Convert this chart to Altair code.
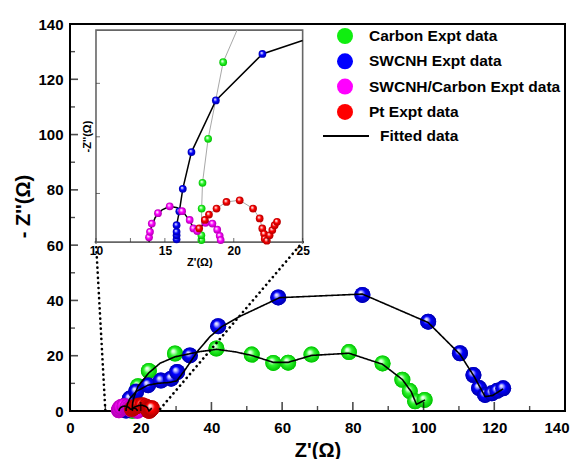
import altair as alt
import pandas as pd

SERIES = ["Carbon Expt data", "SWCNH Expt data", "SWCNH/Carbon Expt data", "Pt Expt data"]
COLORS = ["#10ee10", "#0000ff", "#ff00ff", "#ff0000"]
FIT_LABEL = "Fitted data"

# ---- experimental data (Z', -Z'' in ohm) ----
carbon_x = [17.65, 17.65, 17.67, 17.73, 18.14, 19.23, 22.3, 29.7, 41.4, 51.4, 57.5, 61.7, 68.3, 78.9, 88.4, 94.0, 96.1, 97.6, 100.3]
carbon_y = [0.10, 0.34, 1.67, 2.95, 5.14, 8.95, 14.5, 20.8, 22.6, 20.4, 17.4, 17.5, 20.4, 21.3, 17.2, 11.3, 7.2, 3.5, 4.0]

swcnh_x = [15.85, 15.85, 15.85, 15.85, 16.05, 16.3, 16.93, 18.7, 22.08, 25.7, 28.6, 30.3, 33.9, 41.9, 58.9, 82.7, 101.3, 110.3, 114.1, 115.7, 117.4, 119.3, 120.8, 122.5]
swcnh_y = [0.14, 0.34, 0.51, 0.84, 1.53, 2.65, 4.48, 7.05, 9.36, 11.0, 11.7, 14.1, 20.1, 30.7, 41.1, 42.0, 32.3, 20.9, 13.0, 8.3, 5.8, 6.4, 7.3, 8.2]

mix_x = [13.85, 13.92, 14.05, 14.5, 15.35, 16.25, 16.8, 17.07, 17.35, 17.95, 18.45, 18.8, 18.98, 19.05]
mix_y = [0.24, 0.51, 0.92, 1.44, 1.78, 1.54, 1.10, 0.68, 0.55, 0.96, 0.92, 0.62, 0.31, 0.10]

pt_x = [17.49, 17.9, 18.2, 18.75, 19.47, 20.43, 21.4, 21.88, 22.07, 22.2, 22.25, 22.4, 22.6, 22.8, 22.97, 23.14]
pt_y = [0.68, 1.10, 1.37, 1.67, 2.00, 2.08, 1.67, 1.18, 0.68, 0.41, 0.16, 0.07, 0.34, 0.60, 0.84, 1.01]

# ---- fitted curves ----
fit_carbon_x = [17.6, 17.65, 17.67, 17.73, 18.14, 19.23, 20.24, 22.3, 25.5, 29.7, 36.8, 41.5, 46.7, 51.4, 57.5, 61.7, 68.3, 78.9, 88.4, 94.0, 96.5, 98.0, 100.4]
fit_carbon_y = [0.0, 0.34, 1.67, 2.95, 5.14, 8.95, 10.55, 13.8, 17.3, 19.6, 21.5, 22.3, 21.4, 20.1, 17.6, 17.6, 20.1, 20.9, 16.9, 11.4, 7.0, 2.4, 4.0]

fit_swcnh_x = [15.85, 15.85, 16.05, 16.3, 16.93, 18.7, 22.08, 25.0, 28.0, 30.2, 32.5, 36.3, 39.6, 42.9, 48.0, 59.3, 82.7, 101.3, 110.3, 114.3, 117.4, 119.5, 122.5]
fit_swcnh_y = [0.0, 0.84, 1.53, 2.65, 4.48, 7.05, 9.36, 10.03, 10.3, 10.9, 14.8, 22.0, 26.9, 30.5, 34.2, 41.0, 42.3, 32.0, 20.5, 12.5, 5.2, 5.6, 8.0]

fit_mix_x = [13.85, 13.95, 14.3, 14.8, 15.35, 15.9, 16.4, 16.8, 17.1, 17.3, 17.6, 18.0, 18.4, 18.75, 18.95, 19.08]
fit_mix_y = [0.0, 0.62, 1.23, 1.61, 1.78, 1.71, 1.44, 1.06, 0.68, 0.56, 0.75, 0.99, 0.96, 0.72, 0.38, 0.0]

fit_pt_x = [17.45, 17.9, 18.2, 18.75, 19.47, 20.43, 21.4, 21.88, 22.07, 22.2, 22.35, 22.6, 22.8, 22.97, 23.14]
fit_pt_y = [0.55, 1.10, 1.37, 1.67, 2.00, 2.08, 1.67, 1.18, 0.68, 0.41, 0.03, 0.34, 0.60, 0.84, 1.01]

# ---- axes ----
main_domain = [0, 140]
x_major = [0, 20, 40, 60, 80, 100, 120, 140]
x_minor = [10, 30, 50, 70, 90, 110, 130]
y_major = [0, 20, 40, 60, 80, 100, 120, 140]
y_minor = [10, 30, 50, 70, 90, 110, 130]

inset_dom_x = [10, 25]
inset_dom_y = [0, 10.55]
inset_x_labels = [10, 15, 20, 25]
inset_x_ticks = [10, 12.5, 15, 17.5, 20, 22.5, 25]
inset_y_ticks = [2.42, 5.24, 7.9]
# inset frame located in main-axis units
inset_box_x = [7.35, 65.8]
inset_box_y = [61.1, 137.8]

W, H = 495, 387
FONT = "Liberation Sans"


def table(name, xs, ys):
    return pd.DataFrame({"series": name, "x": xs, "y": ys, "i": list(range(len(xs)))})


points = pd.concat([
    table(SERIES[0], carbon_x, carbon_y),
    table(SERIES[1], swcnh_x, swcnh_y),
    table(SERIES[2], mix_x, mix_y),
    table(SERIES[3], pt_x, pt_y),
], ignore_index=True)

fits = pd.concat([
    table(SERIES[0], fit_carbon_x, fit_carbon_y),
    table(SERIES[1], fit_swcnh_x, fit_swcnh_y),
    table(SERIES[2], fit_mix_x, fit_mix_y),
    table(SERIES[3], fit_pt_x, fit_pt_y),
], ignore_index=True)
fits["fit"] = FIT_LABEL

guides = pd.DataFrame({
    "seg": ["L", "L", "R", "R"],
    "x": [inset_box_x[0], inset_dom_x[0], inset_box_x[1], inset_dom_x[1]],
    "y": [inset_box_y[0], 0, inset_box_y[0], 0],
    "i": [0, 1, 0, 1],
})

SPHERE = {
    SERIES[0]: ("#2cf52c", "#00c000", "#d0ffd0"),
    SERIES[1]: ("#0000ff", "#0000a8", "#c0c0ff"),
    SERIES[2]: ("#ff00ff", "#b000b0", "#ffc8ff"),
    SERIES[3]: ("#ff0000", "#b00000", "#ffc8c8"),
}


def sphere(name):
    body, dark, light = SPHERE[name]
    return alt.RadialGradient(
        gradient="radial", x1=0.37, y1=0.33, r1=0.0, x2=0.5, y2=0.5, r2=0.5,
        stops=[
            alt.GradientStop(color="#ffffff", offset=0.0),
            alt.GradientStop(color=light, offset=0.18),
            alt.GradientStop(color=body, offset=0.5),
            alt.GradientStop(color=dark, offset=1.0),
        ],
    )


last_x = f"datum.value == {x_major[-1]}"

# ---------------- main panel ----------------
mx = alt.X("x:Q", scale=alt.Scale(domain=main_domain, nice=False, zero=False),
           axis=alt.Axis(values=x_major, title="Z'(Ω)", grid=False, domain=False, ticks=False,
                         labelFontSize=15, labelFontWeight="bold", labelPadding=9, labelFlush=False,
                         labelOverlap=False, labelColor="black",
                         labelAlign={"condition": {"test": last_x, "value": "right"}, "value": "center"},
                         labelOffset={"condition": {"test": last_x, "value": 4}, "value": 0},
                         titleFontSize=20, titleFontWeight="bold", titlePadding=5, titleColor="black"))
my = alt.Y("y:Q", scale=alt.Scale(domain=main_domain, nice=False, zero=False),
           axis=alt.Axis(values=y_major, title="- Z''(Ω)", grid=False, domain=False, ticks=False,
                         labelFontSize=15, labelFontWeight="bold", labelPadding=7, labelFlush=False,
                         labelOverlap=False, labelColor="black",
                         titleFontSize=20, titleFontWeight="bold", titleColor="black",
                         titleX=-37, titleY=182))

pts_chart = alt.Chart(points)
flat = pts_chart.mark_circle(size=256, opacity=1).encode(
    x=mx, y=my,
    color=alt.Color("series:N", scale=alt.Scale(domain=SERIES, range=COLORS),
                    legend=alt.Legend(title=None, orient="none", legendX=267, legendY=4,
                                      symbolType="circle", symbolSize=256, symbolStrokeWidth=0,
                                      symbolOpacity=1, labelFont=FONT, labelFontSize=15.5,
                                      labelFontWeight="bold", labelColor="black", labelOffset=16,
                                      labelLimit=400, rowPadding=8.3, padding=0)),
)

main_layers = [flat]
for s in SERIES:
    main_layers.append(
        pts_chart.transform_filter(alt.datum.series == s)
        .mark_circle(size=256, opacity=1, fill=sphere(s), strokeWidth=0)
        .encode(x=mx, y=my)
    )

main_layers.append(
    alt.Chart(fits).mark_line(color="black", strokeWidth=1.6).encode(
        x=mx, y=my, detail="series:N", order="i:Q",
        strokeDash=alt.StrokeDash("fit:N", scale=alt.Scale(domain=[FIT_LABEL], range=[[1, 0]]),
                                  legend=alt.Legend(title=None, orient="none", legendX=252, legendY=88,
                                                    symbolType="stroke", symbolSize=2116,
                                                    symbolStrokeWidth=1.8, symbolStrokeColor="black",
                                                    labelFont=FONT, labelFontSize=15.5,
                                                    labelFontWeight="bold", labelColor="black",
                                                    labelOffset=10, padding=0)),
    )
)

main_layers.append(
    alt.Chart(guides).mark_line(color="black", strokeWidth=2.6, strokeCap="round",
                                strokeDash=[0.1, 5]).encode(
        x=mx, y=my, detail="seg:N", order="i:Q")
)

main_layers.append(
    alt.Chart(pd.DataFrame({"x": x_major, "y": 0})).mark_tick(
        orient="vertical", size=9, thickness=1.6, color="black", yOffset=-4.5).encode(x=mx, y=my))
main_layers.append(
    alt.Chart(pd.DataFrame({"x": x_minor, "y": 0})).mark_tick(
        orient="vertical", size=5, thickness=1.4, color="black", yOffset=-2.5).encode(x=mx, y=my))
main_layers.append(
    alt.Chart(pd.DataFrame({"x": 0, "y": y_major})).mark_tick(
        orient="horizontal", size=8, thickness=1.6, color="black", xOffset=4).encode(x=mx, y=my))
main_layers.append(
    alt.Chart(pd.DataFrame({"x": 0, "y": y_minor})).mark_tick(
        orient="horizontal", size=5, thickness=1.4, color="black", xOffset=2.5).encode(x=mx, y=my))

main = alt.layer(*main_layers)

# ---------------- inset panel ----------------
ix_range = [inset_box_x[0] / main_domain[1] * W, inset_box_x[1] / main_domain[1] * W]
iy_range = [H - inset_box_y[0] / main_domain[1] * H, H - inset_box_y[1] / main_domain[1] * H]

ix = alt.X("x:Q", scale=alt.Scale(domain=inset_dom_x, range=ix_range, nice=False, zero=False),
           axis=alt.Axis(orient="bottom", offset=-(H - iy_range[0]), values=inset_x_labels,
                         title="Z'(Ω)", grid=False, domain=False, ticks=False,
                         labelFontSize=12, labelFontWeight="bold", labelPadding=3, labelFlush=False,
                         labelOverlap=False, labelColor="black",
                         titleFontSize=11, titleFontWeight="bold", titlePadding=0, titleColor="black"))
iy = alt.Y("y:Q", scale=alt.Scale(domain=inset_dom_y, range=iy_range, nice=False, zero=False),
           axis=alt.Axis(orient="left", offset=-ix_range[0], values=inset_y_ticks, labels=False,
                         title="-Z''(Ω)", grid=False, domain=False, ticks=False,
                         titleFontSize=11, titleFontWeight="bold", titlePadding=3, titleColor="black"))

inside = (f"datum.x >= {inset_dom_x[0]} && datum.x <= {inset_dom_x[1]} && "
          f"datum.y >= {inset_dom_y[0]} && datum.y <= {inset_dom_y[1]}")

frame = alt.Chart(pd.DataFrame({"x": [inset_dom_x[0]], "x2": [inset_dom_x[1]],
                                "y": [inset_dom_y[0]], "y2": [inset_dom_y[1]]})).mark_rect(
    fill="white", stroke="#666666", strokeWidth=1.6).encode(x=ix, x2="x2:Q", y=iy, y2="y2:Q")

inset_layers = [frame]
fit_inside = alt.Chart(fits).transform_filter(inside)
inset_layers.append(
    fit_inside.transform_filter(alt.FieldOneOfPredicate(field="series", oneOf=[SERIES[0], SERIES[3]]))
    .mark_line(color="#a8a8a8", strokeWidth=1.0).encode(x=ix, y=iy, detail="series:N", order="i:Q"))
inset_layers.append(
    fit_inside.transform_filter(alt.FieldOneOfPredicate(field="series", oneOf=[SERIES[1], SERIES[2]]))
    .mark_line(color="black", strokeWidth=1.5).encode(x=ix, y=iy, detail="series:N", order="i:Q"))

for s in SERIES:
    inset_layers.append(
        alt.Chart(points).transform_filter(inside).transform_filter(alt.datum.series == s)
        .mark_circle(size=60, opacity=1, fill=sphere(s), strokeWidth=0)
        .encode(x=ix, y=iy)
    )

inset_layers.append(
    alt.Chart(pd.DataFrame({"x": inset_x_ticks, "y": inset_dom_y[0]})).mark_tick(
        orient="vertical", size=4, thickness=1, color="#333333", yOffset=-2).encode(x=ix, y=iy))
inset_layers.append(
    alt.Chart(pd.DataFrame({"x": inset_dom_x[0], "y": inset_y_ticks})).mark_tick(
        orient="horizontal", size=4, thickness=1, color="#333333", xOffset=2).encode(x=ix, y=iy))

inset = alt.layer(*inset_layers)

chart = (
    alt.layer(main, inset)
    .resolve_scale(x="independent", y="independent")
    .properties(width=W, height=H, autosize=alt.AutoSizeParams(type="none"),
                padding={"left": 62, "top": 16, "right": 5, "bottom": 48})
    .configure(font=FONT)
    .configure_view(stroke="black", strokeWidth=2)
)

chart.save("out.html", embed_options={"renderer": "svg", "actions": False})
